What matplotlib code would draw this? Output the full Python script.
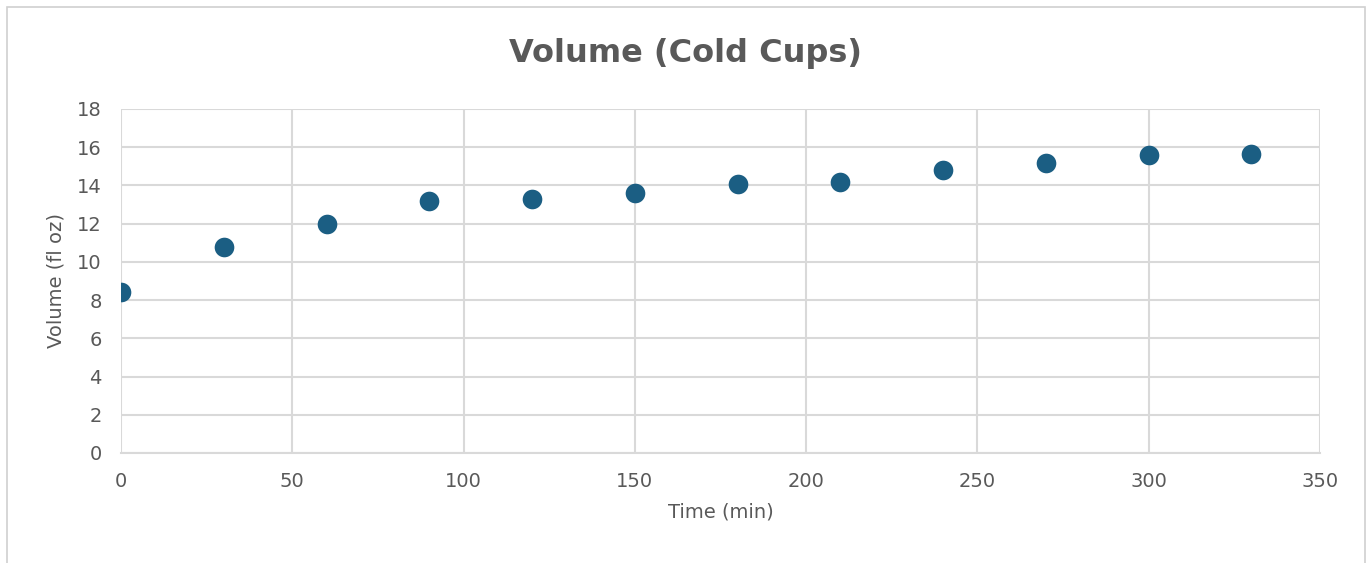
import matplotlib
matplotlib.use("Agg")
import matplotlib.pyplot as plt
from matplotlib.patches import Rectangle

# Data
time_min = [0, 30, 60, 90, 120, 150, 180, 210, 240, 270, 300, 330]
volume_floz = [8.4, 10.8, 12.0, 13.2, 13.3, 13.6, 14.1, 14.2, 14.8, 15.2, 15.6, 15.65]

x_ticks = [0, 50, 100, 150, 200, 250, 300, 350]
y_ticks = [0, 2, 4, 6, 8, 10, 12, 14, 16, 18]

text_color = "#595959"
grid_color = "#d9d9d9"
point_color = "#1b5e83"

fig = plt.figure(figsize=(13.69, 5.63), dpi=100)

# outer chart border
fig.patches.append(Rectangle((0.005, -0.01), 0.992, 0.998, transform=fig.transFigure,
                             fill=False, edgecolor="#d0d0d0", linewidth=1.2))

ax = fig.add_axes([0.0884, 0.1954, 0.8758, 0.611])
ax.scatter(time_min, volume_floz, s=200, color=point_color, zorder=3, linewidths=0)

ax.set_xlim(0, 350)
ax.set_ylim(0, 18)
ax.set_xticks(x_ticks)
ax.set_yticks(y_ticks)
ax.grid(True, color=grid_color, linewidth=1.5)
ax.set_axisbelow(True)
for side in ["top", "left", "right"]:
    ax.spines[side].set_visible(False)
ax.spines["bottom"].set_color(grid_color)
ax.spines["bottom"].set_linewidth(1.5)
ax.tick_params(length=0, pad=14, labelsize=14, labelcolor=text_color)

ax.set_xlabel("Time (min)", fontsize=14, color=text_color, labelpad=8)
ax.set_ylabel("Volume (fl oz)", fontsize=14, color=text_color, labelpad=8)

fig.text(0.501, 0.905, "Volume (Cold Cups)", ha="center", va="center",
         fontsize=23, fontweight="bold", color=text_color)

fig.savefig("out.png", dpi=100, facecolor="white")
